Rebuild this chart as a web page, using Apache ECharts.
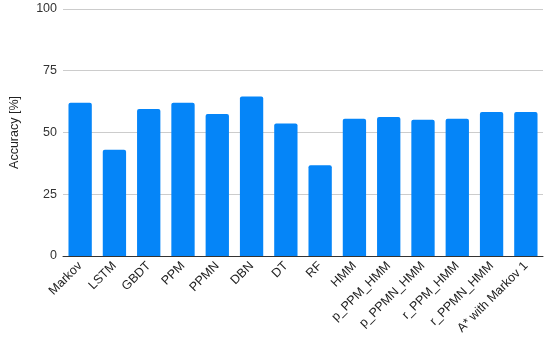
<!DOCTYPE html>
<html><head><meta charset="utf-8">
<script src="https://cdn.jsdelivr.net/npm/echarts@6/dist/echarts.min.js"></script>
<style>html,body{margin:0;padding:0;background:#fff}#c{width:550px;height:337px}</style>
</head><body><div id="c"></div>
<script>
const categories = ["Markov","LSTM","GBDT","PPM","PPMN","DBN","DT","RF","HMM","p_PPM_HMM","p_PPMN_HMM","r_PPM_HMM","r_PPMN_HMM","A* with Markov 1"];
const accuracy = [62, 43, 59.5, 62, 57.5, 64.6, 53.6, 36.7, 55.6, 56.3, 55.2, 55.6, 58.3, 58.3];
const yTicks = [0, 25, 50, 75, 100];

const chart = echarts.init(document.getElementById('c'), null, {renderer:'canvas'});
chart.setOption({
  animation:false,
  grid:{left:57, right:7, top:9, bottom:80, containLabel:false},
  xAxis:{type:'category', data:categories,
    axisLine:{lineStyle:{color:'#333', width:1}}, axisTick:{show:false},
    axisLabel:{rotate:45, interval:0, color:'#222', fontFamily:'Liberation Sans, Arial', fontSize:12.5, margin:8}},
  yAxis:{type:'value', min:0, max:100, interval:25,
    name:'Accuracy [%]', nameLocation:'middle', nameGap:42,
    nameTextStyle:{color:'#222', fontFamily:'Liberation Sans, Arial', fontSize:12.5},
    axisLine:{show:false}, axisTick:{show:false},
    splitLine:{lineStyle:{color:'#cccccc'}},
    axisLabel:{color:'#333', fontFamily:'Liberation Sans, Arial', fontSize:12.5, margin:6,
      formatter:v=>yTicks.includes(v)?String(v):''}},
  series:[{type:'bar', data:accuracy, barCategoryGap:'32%',
    itemStyle:{color:'#0585f8', borderRadius:[2,2,0,0]}}]
});
</script></body></html>
